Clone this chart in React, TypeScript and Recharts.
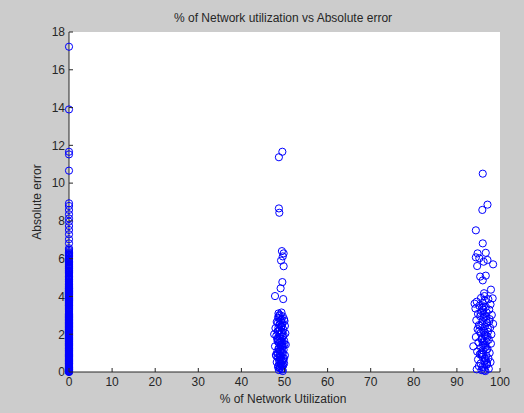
import React from 'react';
import { ScatterChart, Scatter, XAxis, YAxis, CartesianGrid } from 'recharts';

// Absolute error values observed at 0 % network utilization
const zeroUtilErrors = [
  0.0, 0.03, 0.07, 0.12, 0.15, 0.19, 0.24, 0.28, 0.31, 0.36, 0.41, 0.44, 0.48, 0.53, 0.57, 0.62,
  0.66, 0.69, 0.74, 0.79, 0.83, 0.86, 0.91, 0.95, 1.01, 1.04, 1.08, 1.13, 1.17, 1.22, 1.26, 1.29,
  1.34, 1.39, 1.43, 1.47, 1.52, 1.55, 1.61, 1.64, 1.69, 1.73, 1.78, 1.82, 1.86, 1.91, 1.95, 1.99,
  2.04, 2.08, 2.13, 2.17, 2.21, 2.26, 2.3, 2.35, 2.39, 2.43, 2.48, 2.52, 2.57, 2.61, 2.65, 2.7,
  2.74, 2.79, 2.83, 2.88, 2.92, 2.96, 3.01, 3.05, 3.18, 3.27, 3.36, 3.42, 3.51, 3.56, 3.61, 3.66,
  3.71, 3.76, 3.8, 3.85, 3.9, 3.94, 3.99, 4.03, 4.08, 4.12, 4.17, 4.21, 4.26, 4.31, 4.35, 4.4,
  4.44, 4.56, 4.63, 4.71, 4.8, 4.86, 4.93, 5.02, 5.09, 5.14, 5.23, 5.31, 5.38, 5.44, 5.52, 5.58,
  5.66, 5.73, 5.79, 5.86, 5.93, 6.01, 6.08, 6.16, 6.24, 6.33, 6.55, 6.81, 7.03, 7.29, 7.52, 7.73,
  7.96, 8.13, 8.35, 8.58, 8.79, 8.93, 10.66, 11.52, 11.66, 13.9, 17.22,
  0.01, 0.05, 0.1, 0.14, 0.17, 0.22, 0.26, 0.33, 0.38, 0.43, 0.46, 0.51, 0.55, 0.6, 0.64, 0.71,
  0.76, 0.81, 0.88, 0.93, 0.98, 1.06, 1.11, 1.15, 1.2, 1.24, 1.32, 1.37, 1.41, 1.45, 1.5, 1.58,
  1.63, 1.67, 1.71, 1.76, 1.8, 1.84, 1.89, 1.93, 1.97, 2.02, 2.06, 2.11, 2.15, 2.19, 2.24, 2.28,
  2.33, 2.37, 2.41, 2.46, 2.5, 2.55, 2.59, 2.63, 2.68, 2.72, 2.77, 2.81, 2.86, 2.9, 2.94, 2.99,
  3.03, 3.09, 3.13, 3.22, 3.31, 3.46, 3.53, 3.59, 3.64, 3.69, 3.74, 3.78, 3.83, 3.88, 3.92, 3.97,
  4.01, 4.06, 4.1, 4.15, 4.19, 4.24, 4.28, 4.33, 4.38, 4.42, 4.48, 4.52, 4.6, 4.67, 4.76, 4.9,
  4.98, 5.06, 5.19, 5.27, 5.35, 5.48, 5.62, 5.7, 5.83, 5.97, 6.12, 6.2, 6.28, 6.4, 6.47,
];

// Cluster near 50 % utilization
const midUtil = [
  49.5, 48.7, 48.7, 48.8, 49.4, 49.8, 49.6, 49.2, 49.8, 49.5, 49.1, 47.8, 49.7,
  49.3, 48.9, 49.6, 48.5, 49.9, 49.1, 48.2, 49.5, 48.8, 50.1, 49.2, 47.9, 49.7, 48.6, 49.4, 50.2,
  48.9, 48.1, 49.6, 49.0, 48.4, 49.9, 49.3, 48.7, 50.0, 49.1, 47.8, 49.5, 48.6, 49.8, 49.0, 48.3,
  49.6, 48.9, 50.1, 49.2, 48.5, 49.7, 48.8, 49.4, 48.2, 49.9, 49.1, 48.6, 49.5, 48.9, 49.3, 48.7,
  49.6, 49.0, 48.4, 49.4, 48.8, 49.2, 48.0, 49.7, 48.6, 50.0, 49.1, 47.6, 50.3,
  48.5, 49.3, 48.9, 49.8, 48.3, 49.0, 49.6, 48.7, 49.4, 48.1, 49.9, 48.8, 49.2, 48.5, 49.5, 48.9,
  49.7, 48.4, 49.1, 48.8, 49.4, 48.6, 49.0, 49.3, 48.7, 49.5, 48.9, 49.2, 48.4, 49.6,
];
const midErrors = [
  11.66, 11.37, 8.66, 8.43, 6.4, 6.28, 6.12, 5.9, 5.6, 4.76, 4.43, 4.02, 3.86,
  3.15, 3.02, 2.95, 2.88, 2.8, 2.72, 2.65, 2.58, 2.5, 2.44, 2.38, 2.32, 2.25, 2.18, 2.12, 2.05,
  1.98, 1.92, 1.86, 1.8, 1.73, 1.67, 1.6, 1.54, 1.48, 1.42, 1.36, 1.3, 1.24, 1.18, 1.12, 1.06,
  1.0, 0.94, 0.88, 0.82, 0.76, 0.7, 0.64, 0.58, 0.52, 0.46, 0.4, 0.34, 0.28, 0.22, 0.16, 0.1,
  0.05, 0.3, 1.62, 2.48, 2.85, 1.1, 0.9, 0.35, 3.1, 2.7, 0.68, 2.0, 1.45,
  2.62, 2.41, 2.22, 1.95, 1.77, 1.57, 1.39, 1.21, 1.03, 0.85, 0.73, 0.55, 0.43, 0.26, 0.13, 0.2,
  0.6, 0.97, 1.33, 1.7, 2.09, 2.35, 2.55, 2.78, 2.98, 1.52, 0.79, 0.44, 2.15, 1.88,
];

// Cluster near 96 % utilization
const highUtil = [
  96.0, 97.1, 95.9, 94.4, 96.0, 94.8, 96.7, 95.2, 94.4, 97.1, 98.4, 96.2, 94.7,
  95.4, 96.7, 96.0, 97.9, 96.3,
  96.4, 95.6, 97.3, 94.6, 96.0, 97.8, 95.2, 96.7, 94.3, 97.5, 95.8, 96.9, 94.9, 98.1, 95.4, 96.3,
  97.6, 94.5, 95.9, 97.0, 98.4, 95.1, 96.5, 97.7, 94.8, 96.1, 97.2, 95.5, 98.0, 96.7, 94.4, 95.8,
  97.4, 96.2, 95.0, 97.9, 96.6, 93.8, 95.6, 97.1, 96.0, 94.7, 97.6, 95.3, 96.8, 95.9, 97.3, 94.9,
  96.4, 97.8, 95.5, 96.9, 95.1, 96.3, 97.4, 95.7, 96.6, 94.6, 97.0, 95.8, 96.9, 95.2, 97.5, 96.1,
  98.3, 94.1,
  96.2, 95.5, 96.8, 95.9, 97.2, 96.4, 95.7, 96.1, 96.9, 95.6, 96.5, 97.0, 95.9, 96.3, 96.7, 95.8,
  96.6, 96.0, 97.1, 96.4, 95.4, 96.8, 96.2, 95.9, 96.5,
];
const highErrors = [
  10.5, 8.86, 8.58, 7.5, 6.81, 6.28, 6.31, 6.02, 6.07, 5.93, 5.7, 5.84, 5.61,
  5.05, 5.1, 4.85, 4.36, 4.17,
  4.02, 3.92, 3.85, 3.72, 3.66, 3.58, 3.5, 3.44, 3.36, 3.3, 3.22, 3.15, 3.08, 3.02, 2.95, 2.88,
  2.8, 2.74, 2.67, 2.6, 2.55, 2.48, 2.41, 2.34, 2.27, 2.2, 2.13, 2.06, 1.99, 1.92, 1.85, 1.78,
  1.71, 1.64, 1.57, 1.5, 1.43, 1.36, 1.29, 1.22, 1.15, 1.08, 1.01, 0.94, 0.87, 0.8, 0.73, 0.66,
  0.59, 0.52, 0.45, 0.38, 0.31, 0.24, 0.17, 0.1, 0.05, 0.14, 0.42, 1.02, 1.62, 2.18, 2.68, 3.3,
  3.9, 3.62,
  3.48, 3.12, 2.92, 2.52, 2.3, 1.96, 1.74, 1.41, 1.18, 0.97, 0.7, 0.48, 0.27, 0.08, 0.62, 0.9,
  1.33, 1.55, 1.88, 2.1, 2.44, 2.76, 3.05, 3.4, 3.78,
];

const xTicks = [0, 10, 20, 30, 40, 50, 60, 70, 80, 90, 100];
const yTicks = [0, 2, 4, 6, 8, 10, 12, 14, 16, 18];

const points = [
  ...zeroUtilErrors.map((e) => ({ u: 0, e })),
  ...midUtil.map((u, i) => ({ u, e: midErrors[i] })),
  ...highUtil.map((u, i) => ({ u, e: highErrors[i] })),
];

const FONT = '"Liberation Sans", Arial, Helvetica, sans-serif';
const INK = '#262626';

const Ring = (p: any) => (
  <circle cx={p.cx} cy={p.cy} r={3.6} fill="none" stroke="#0000ff" strokeWidth={1} />
);

const XTick = (p: any) => (
  <g>
    <line x1={p.x} x2={p.x} y1={p.y} y2={p.y - 4} stroke={INK} strokeWidth={1} />
    <text x={p.x} y={p.y + 14} textAnchor="middle" fontSize={12} fontFamily={FONT} fill={INK}>
      {p.payload.value}
    </text>
  </g>
);

const YTick = (p: any) => (
  <g>
    <line x1={p.x} x2={p.x + 4} y1={p.y} y2={p.y} stroke={INK} strokeWidth={1} />
    <text x={p.x - 4} y={p.y + 4.3} textAnchor="end" fontSize={12} fontFamily={FONT} fill={INK}>
      {p.payload.value}
    </text>
  </g>
);

export default function App() {
  return (
    <div
      style={{
        position: 'absolute',
        left: 0,
        top: 0,
        width: 524,
        height: 413,
        background: '#cccccc',
        fontFamily: FONT,
      }}
    >
      <div
        style={{
          position: 'absolute',
          left: 0,
          top: 10,
          width: 566,
          textAlign: 'center',
          fontSize: 12,
          color: INK,
          lineHeight: '16px',
        }}
      >
        % of Network utilization vs Absolute error
      </div>
      <ScatterChart width={524} height={413} margin={{ top: 32, right: 24, bottom: 0, left: 0 }}>
        <CartesianGrid horizontal={false} vertical={false} fill="#ffffff" fillOpacity={1} stroke="none" />
        <XAxis
          type="number"
          dataKey="u"
          domain={[0, 100]}
          ticks={xTicks}
          interval={0}
          height={41}
          tickSize={0}
          tickMargin={0}
          tickLine={false}
          tick={<XTick />}
          axisLine={{ stroke: INK, strokeWidth: 1 }}
          label={{
            content: () => (
              <text x={283} y={403} textAnchor="middle" fontSize={12} fontFamily={FONT} fill={INK}>
                % of Network Utilization
              </text>
            ),
          }}
        />
        <YAxis
          type="number"
          dataKey="e"
          domain={[0, 18]}
          ticks={yTicks}
          interval={0}
          width={69}
          tickSize={0}
          tickMargin={0}
          tickLine={false}
          tick={<YTick />}
          axisLine={{ stroke: INK, strokeWidth: 1 }}
          label={{
            content: () => (
              <text
                x={41}
                y={202}
                transform="rotate(-90 41 202)"
                textAnchor="middle"
                fontSize={12}
                fontFamily={FONT}
                fill={INK}
              >
                Absolute error
              </text>
            ),
          }}
        />
        <Scatter data={points} shape={<Ring />} isAnimationActive={false} />
      </ScatterChart>
    </div>
  );
}
